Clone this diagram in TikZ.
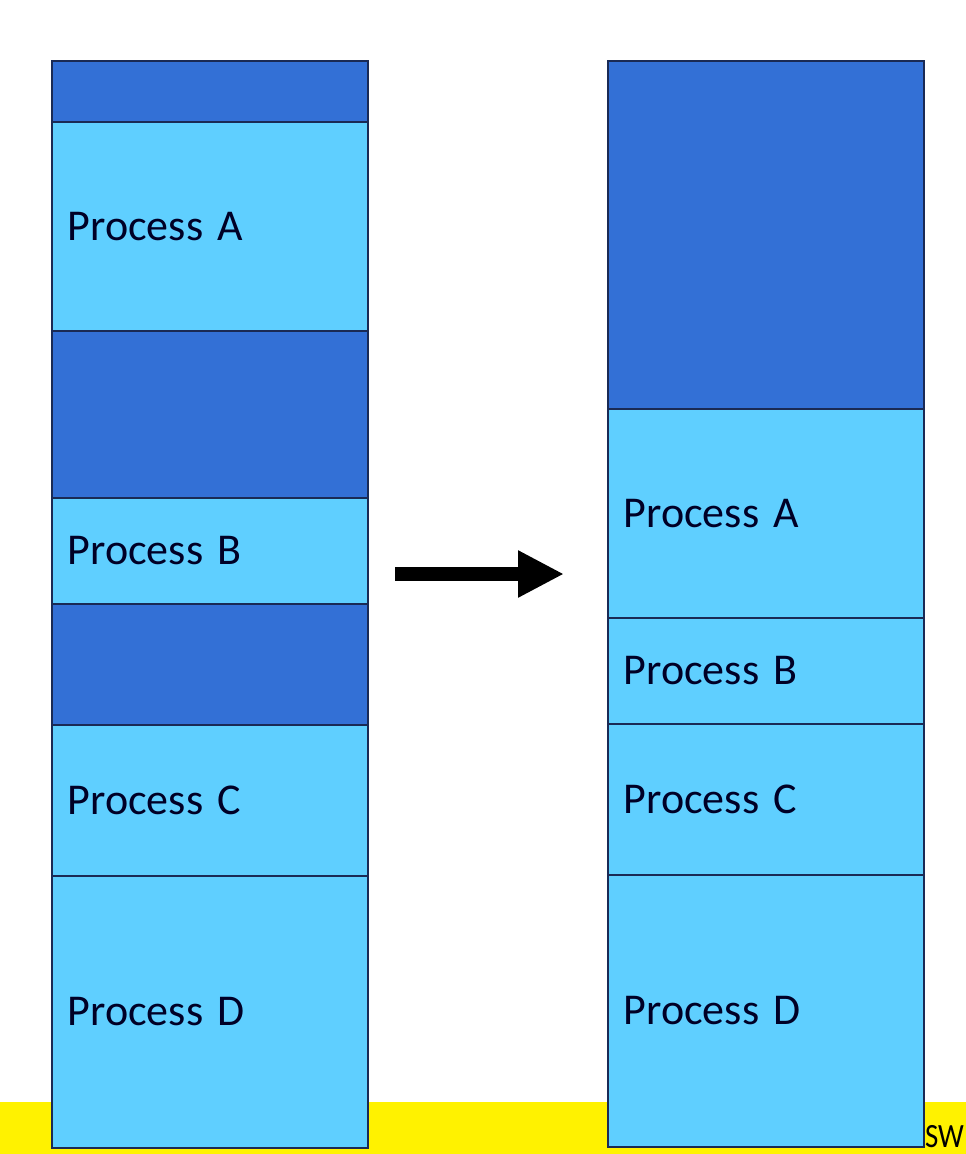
\documentclass[tikz,border=0pt]{standalone}
\usepackage{fontspec}
\setmainfont{Carlito}
\usetikzlibrary{arrows.meta}
\definecolor{freeblue}{HTML}{3370D6}
\definecolor{procblue}{HTML}{5FCFFF}
\definecolor{edgeblue}{HTML}{1A2A55}
\definecolor{bandyellow}{HTML}{FFF200}
\tikzset{
  blk/.style={draw=edgeblue, line width=1.5pt, anchor=north west, minimum width=316pt,
    text width=284pt, inner xsep=16pt, inner ysep=0pt, align=left,
    font=\fontsize{44}{50}\selectfont, text=black!85!blue},
  freeblk/.style={blk, fill=freeblue},
  procblk/.style={blk, fill=procblue},
}
\begin{document}
\begin{tikzpicture}[x=1pt,y=-1pt]
\useasboundingbox (0,0) rectangle (966,1154);
\fill[white] (0,0) rectangle (966,1154);
\fill[bandyellow] (0,1102) rectangle (966,1154);
\node[anchor=base west, inner sep=0pt, xscale=0.85, font=\fontsize{34}{38}\selectfont] (logo) at (925,1147) {SW};
% left column
\node[freeblk, minimum height=61pt] (l1) at (51,60) {};
\node[procblk, minimum height=209pt] (la) at (51,121) {Process A};
\node[freeblk, minimum height=167pt] (l2) at (51,330) {};
\node[procblk, minimum height=106pt] (lb) at (51,497) {Process B};
\node[freeblk, minimum height=121pt] (l3) at (51,603) {};
\node[procblk, minimum height=151pt] (lc) at (51,724) {Process C};
\node[procblk, minimum height=272pt] (ld) at (51,875) {Process D};
% right column
\node[freeblk, minimum height=348pt] (r1) at (607,60) {};
\node[procblk, minimum height=209pt] (ra) at (607,408) {Process A};
\node[procblk, minimum height=106pt] (rb) at (607,617) {Process B};
\node[procblk, minimum height=151pt] (rc) at (607,723) {Process C};
\node[procblk, minimum height=272pt] (rd) at (607,874) {Process D};
% arrow
\coordinate (as) at (395,574);
\coordinate (ae) at (564,574);
\draw[line width=14pt, -{Triangle[length=46pt,width=44pt]}] (as) -- (ae);
\end{tikzpicture}
\end{document}
